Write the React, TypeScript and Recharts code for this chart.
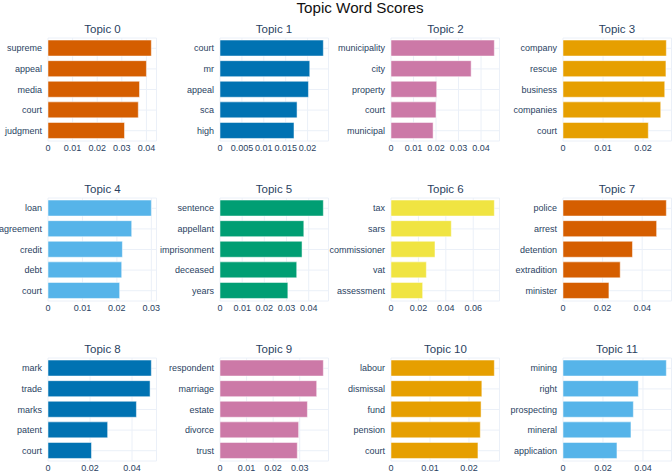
import { useMemo } from "react"
import { Bar, BarChart, CartesianGrid, XAxis, YAxis } from "recharts"

// top-to-bottom word order per topic, c-TF-IDF scores alongside
const topic0Words = ["supreme", "appeal", "media", "court", "judgment"]
const topic0Scores = [0.042, 0.04, 0.0372, 0.0367, 0.0311]
const topic1Words = ["court", "mr", "appeal", "sca", "high"]
const topic1Scores = [0.0236, 0.0205, 0.0202, 0.0176, 0.0169]
const topic2Words = ["municipality", "city", "property", "court", "municipal"]
const topic2Scores = [0.0459, 0.0356, 0.0203, 0.02, 0.0187]
const topic3Words = ["company", "rescue", "business", "companies", "court"]
const topic3Scores = [0.0258, 0.0257, 0.0254, 0.0244, 0.0213]
const topic4Words = ["loan", "agreement", "credit", "debt", "court"]
const topic4Scores = [0.03, 0.0243, 0.0216, 0.0214, 0.0208]
const topic5Words = ["sentence", "appellant", "imprisonment", "deceased", "years"]
const topic5Scores = [0.0466, 0.0378, 0.037, 0.0346, 0.0306]
const topic6Words = ["tax", "sars", "commissioner", "vat", "assessment"]
const topic6Scores = [0.0754, 0.044, 0.0321, 0.0258, 0.0231]
const topic7Words = ["police", "arrest", "detention", "extradition", "minister"]
const topic7Scores = [0.0522, 0.0473, 0.0351, 0.0289, 0.0232]
const topic8Words = ["mark", "trade", "marks", "patent", "court"]
const topic8Scores = [0.0492, 0.0486, 0.0421, 0.0284, 0.0207]
const topic9Words = ["respondent", "marriage", "estate", "divorce", "trust"]
const topic9Scores = [0.0389, 0.0364, 0.0329, 0.0296, 0.0291]
const topic10Words = ["labour", "dismissal", "fund", "pension", "court"]
const topic10Scores = [0.0265, 0.0233, 0.0231, 0.0229, 0.0223]
const topic11Words = ["mining", "right", "prospecting", "mineral", "application"]
const topic11Scores = [0.0517, 0.0377, 0.0352, 0.034, 0.027]

const topicColors = [
  "#D55E00", "#0072B2", "#CC79A7", "#E69F00",
  "#56B4E9", "#009E73", "#F0E442", "#D55E00",
  "#0072B2", "#CC79A7", "#E69F00", "#56B4E9",
]

const topicTicks = [
  [0, 0.01, 0.02, 0.03, 0.04],
  [0, 0.005, 0.01, 0.015, 0.02],
  [0, 0.01, 0.02, 0.03, 0.04],
  [0, 0.01, 0.02],
  [0, 0.01, 0.02, 0.03],
  [0, 0.01, 0.02, 0.03, 0.04],
  [0, 0.02, 0.04, 0.06],
  [0, 0.02, 0.04],
  [0, 0.02, 0.04],
  [0, 0.01, 0.02, 0.03],
  [0, 0.01, 0.02],
  [0, 0.02, 0.04],
]

const topics = [
  [topic0Words, topic0Scores],
  [topic1Words, topic1Scores],
  [topic2Words, topic2Scores],
  [topic3Words, topic3Scores],
  [topic4Words, topic4Scores],
  [topic5Words, topic5Scores],
  [topic6Words, topic6Scores],
  [topic7Words, topic7Scores],
  [topic8Words, topic8Scores],
  [topic9Words, topic9Scores],
  [topic10Words, topic10Scores],
  [topic11Words, topic11Scores],
] as [string[], number[]][]

const FONT = '"Liberation Sans", Arial, sans-serif'
const TEXT = "#2a3f5f"
const GRID = "#EBF0F8"

// subplot geometry
const PLOT_LEFT0 = 48.3
const COL_STEP = 171.47
const PLOT_TOP0 = 38
const ROW_STEP = 160
const PLOT_W = 108.5
const PLOT_H = 103
const AXIS_W = 70
const MARGIN_TOP = 10
const MARGIN_RIGHT = 14
const X_AXIS_H = 20

const tickStyle = { fontSize: 9, fill: TEXT, fontFamily: FONT }

interface TopicPanelProps {
  index: number;
  words: string[];
  scores: number[];
}

function TopicPanel({ index, words, scores }: TopicPanelProps) {
  const data = useMemo(
    () => words.map((word, i) => ({ word, score: scores[i] })),
    [words, scores]
  )
  const row = Math.floor(index / 4)
  const col = index % 4
  const plotLeft = PLOT_LEFT0 + col * COL_STEP
  const plotTop = PLOT_TOP0 + row * ROW_STEP

  return (
    <div style={{ position: "absolute", left: plotLeft - AXIS_W, top: plotTop - MARGIN_TOP }}>
      <BarChart
        width={AXIS_W + PLOT_W + MARGIN_RIGHT}
        height={MARGIN_TOP + PLOT_H + X_AXIS_H}
        layout="vertical"
        data={data}
        margin={{ top: MARGIN_TOP, right: MARGIN_RIGHT, bottom: 0, left: 0 }}
        barCategoryGap="10%"
      >
        <CartesianGrid stroke={GRID} strokeWidth={1} />
        <XAxis
          type="number"
          domain={[0, (max: number) => max * 1.05]}
          ticks={topicTicks[index]}
          interval={0}
          axisLine={false}
          tickLine={false}
          tickSize={0}
          tickMargin={4}
          height={X_AXIS_H}
          tick={tickStyle}
        />
        <YAxis
          type="category"
          dataKey="word"
          width={AXIS_W}
          interval={0}
          axisLine={false}
          tickLine={false}
          tickSize={0}
          tickMargin={6}
          tick={tickStyle}
        />
        <Bar
          dataKey="score"
          fill={topicColors[index]}
          stroke="#ffffff"
          strokeWidth={0.5}
          isAnimationActive={false}
        />
      </BarChart>
    </div>
  )
}

export default function App() {
  return (
    <div
      style={{
        position: "absolute",
        left: 0,
        top: 0,
        width: 672,
        height: 472,
        overflow: "hidden",
        background: "#fff",
      }}
    >
      {topics.map(([words, scores], i) => (
        <TopicPanel key={i} index={i} words={words} scores={scores} />
      ))}
      <svg
        width={672}
        height={472}
        style={{ position: "absolute", left: 0, top: 0, pointerEvents: "none" }}
      >
        <text x={360} y={12.7} textAnchor="middle" fontFamily={FONT} fontSize={15.2} fill="#111">
          Topic Word Scores
        </text>
        {topics.map((_, i) => (
          <text
            key={i}
            x={PLOT_LEFT0 + (i % 4) * COL_STEP + PLOT_W / 2}
            y={32.5 + Math.floor(i / 4) * ROW_STEP}
            textAnchor="middle"
            fontFamily={FONT}
            fontSize={11.5}
            fill={TEXT}
          >
            {`Topic ${i}`}
          </text>
        ))}
      </svg>
    </div>
  )
}
